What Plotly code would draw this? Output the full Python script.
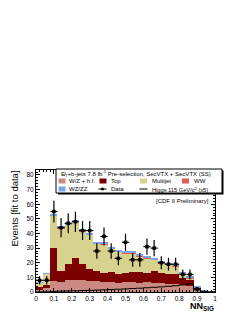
import numpy as np
import plotly.graph_objects as go

# ---- data (25 bins of width 0.04 on NN_SIG) ----
bin_edges = [round(0.04 * i, 2) for i in range(26)]
bin_centers = [round(0.02 + 0.04 * i, 2) for i in range(25)]

wz_hf = [1.5, 2.5, 7.4, 6.9, 8.0, 8.5, 8.0, 7.4, 7.4, 6.9, 6.7, 6.2, 6.7,
         6.9, 6.2, 6.7, 6.2, 6.2, 5.8, 5.5, 5.0, 4.4, 2.3, 0.9, 0.3]
top = [2.0, 2.5, 23.0, 7.4, 10.9, 15.0, 10.9, 8.0, 6.9, 6.2, 6.9, 6.2, 6.4,
       6.9, 7.4, 6.4, 8.1, 6.5, 6.6, 6.5, 4.9, 3.6, 0.9, 0.2, 0.0]
multijet = [3.0, 7.5, 21.6, 29.2, 27.1, 24.5, 22.6, 23.6, 18.7, 19.4, 15.9,
            15.1, 13.4, 12.7, 10.9, 9.9, 7.7, 6.8, 6.1, 5.7, 2.6, 1.5, 0.1, 0.0, 0.0]
ww = [0.05, 0.1, 0.4, 0.4, 0.4, 0.4, 0.4, 0.4, 0.4, 0.4, 0.4, 0.4, 0.4,
      0.4, 0.4, 0.4, 0.4, 0.4, 0.4, 0.3, 0.3, 0.3, 0.1, 0.05, 0.0]
wz_zz = [0.1, 0.2, 0.8, 0.9, 0.9, 0.9, 0.9, 0.9, 0.9, 0.9, 0.9, 0.9, 0.9,
         0.9, 0.9, 0.9, 0.9, 0.9, 0.9, 0.8, 0.8, 0.7, 0.2, 0.1, 0.0]
higgs_x5 = [0.05, 0.1, 0.4, 0.6, 0.7, 0.8, 1.0, 1.1, 1.3, 1.5, 1.7, 1.9, 2.1,
            2.4, 2.6, 2.9, 3.2, 3.5, 3.9, 4.3, 4.8, 5.6, 1.6, 0.4, 0.1]
data = [8, 8, 55, 44, 47, 48, 42, 42, 28, 38, 28, 23, 34,
        22, 22, 31, 30, 20, 19, 19, 12, 12, 2, 0, 0]

x_ticks = [0, 0.1, 0.2, 0.3, 0.4, 0.5, 0.6, 0.7, 0.8, 0.9, 1]
x_tick_labels = ["0", "0.1", "0.2", "0.3", "0.4", "0.5", "0.6", "0.7", "0.8", "0.9", "1"]
y_ticks = [0, 10, 20, 30, 40, 50, 60, 70, 80]

# ---- styling ----
C_WZHF = "#cc8a84"
C_TOP = "#7d0000"
C_MJ = "#d7d28e"
C_WW = "#e05a5a"
C_WZZZ = "#7fa3e4"
FONT = "Liberation Sans, Arial, Helvetica, sans-serif"

# the page body has an 8px default margin: the figure is offset by it
OFF = 8
PAGE_W, PAGE_H = 245, 317
W, H = PAGE_W - OFF, PAGE_H - OFF
L_PAGE, R_PAGE, T_PAGE, B_PAGE = 36, 215, 170, 292   # plot area in page pixels
ML = L_PAGE - OFF
MT = T_PAGE - OFF
MR = W + OFF - R_PAGE
MB = H + OFF - B_PAGE
PW = R_PAGE - L_PAGE
PH = B_PAGE - T_PAGE


def px(xp):
    return (xp - L_PAGE) / PW


def py(yp):
    return (B_PAGE - yp) / PH


fig = go.Figure()
for name, vals, col in [("W/Z + h.f.", wz_hf, C_WZHF), ("Top", top, C_TOP),
                        ("Multijet", multijet, C_MJ), ("WW", ww, C_WW),
                        ("WZ/ZZ", wz_zz, C_WZZZ)]:
    fig.add_trace(go.Bar(x=bin_centers, y=vals, width=0.04, name=name,
                         marker=dict(color=col, line=dict(width=0))))

fig.add_trace(go.Scatter(x=bin_edges, y=higgs_x5 + [higgs_x5[-1]], mode="lines",
                         line=dict(color="black", width=1, shape="hv"),
                         name="Higgs"))

d_x = [c for c, v in zip(bin_centers, data) if v > 0]
d_y = [v for v in data if v > 0]
fig.add_trace(go.Scatter(
    x=d_x, y=d_y, mode="markers", name="Data",
    marker=dict(color="black", size=3.5, symbol="square"),
    error_y=dict(type="data", array=list(np.sqrt(d_y)), color="black",
                 thickness=1.2, width=0),
    error_x=dict(type="constant", value=0.02, color="black",
                 thickness=1.2, width=0)))

axis_common = dict(showline=True, linecolor="black", linewidth=1, mirror="ticks",
                   ticks="inside", ticklen=4, tickcolor="black", tickwidth=1,
                   showgrid=False, zeroline=False,
                   tickfont=dict(family=FONT, size=6.5, color="black"))

fig.update_xaxes(range=[0, 1], tickvals=x_ticks, ticktext=x_tick_labels,
                 minor=dict(dtick=0.02, ticklen=2, ticks="inside", tickcolor="black"),
                 **axis_common)
fig.update_yaxes(range=[0, 83.4], tickvals=y_ticks,
                 minor=dict(dtick=2, ticklen=2, ticks="inside", tickcolor="black"),
                 **axis_common)

shapes = []
annotations = []

# legend box with shadow
shapes.append(dict(type="rect", xref="paper", yref="paper", layer="above",
                   x0=px(58), x1=px(223.5), y0=py(170.5), y1=py(194.5),
                   fillcolor="black", line=dict(width=0)))
shapes.append(dict(type="rect", xref="paper", yref="paper", layer="above",
                   x0=px(56), x1=px(222), y0=py(169), y1=py(193),
                   fillcolor="white", line=dict(color="black", width=1)))


def swatch(x0, yc, col):
    shapes.append(dict(type="rect", xref="paper", yref="paper", layer="above",
                       x0=px(x0), x1=px(x0 + 7), y0=py(yc + 2.5), y1=py(yc - 2.5),
                       fillcolor=col, line=dict(width=0)))


def label(x, yc, text, anchor="left", size=6):
    annotations.append(dict(xref="paper", yref="paper", x=px(x), y=py(yc),
                            text=text, showarrow=False, xanchor=anchor,
                            yanchor="middle",
                            font=dict(family=FONT, size=size, color="black")))


label(58.5, 173.5, "E&#824;<sub>T</sub>+b-jets 7.8 fb<sup>-1</sup> Pre-selection, SecVTX + SecVTX (SS)")
r1, r2 = 181, 189
swatch(58.5, r1, C_WZHF); label(67, r1, "W/Z + h.f.")
swatch(99.5, r1, C_TOP); label(109, r1, "Top")
swatch(140, r1, C_MJ); label(149.5, r1, "Multijet")
swatch(182, r1, C_WW); label(191.5, r1, "WW")
swatch(58.5, r2, C_WZZZ); label(67, r2, "WZ/ZZ")
shapes.append(dict(type="line", xref="paper", yref="paper", layer="above",
                   x0=px(98.5), x1=px(106.5), y0=py(r2), y1=py(r2),
                   line=dict(color="black", width=1)))
shapes.append(dict(type="circle", xref="paper", yref="paper", layer="above",
                   x0=px(101), x1=px(104), y0=py(r2 + 1.5), y1=py(r2 - 1.5),
                   fillcolor="black", line=dict(width=0)))
label(109, r2, "Data")
shapes.append(dict(type="line", xref="paper", yref="paper", layer="above",
                   x0=px(139.5), x1=px(147.5), y0=py(r2), y1=py(r2),
                   line=dict(color="black", width=1)))
label(149.5, r2, "Higgs 115 GeV/c<sup>2</sup> (x5)", size=5.7)

label(211, 200.5, "[CDF II Preliminary]", anchor="right")

# axis titles
annotations.append(dict(xref="paper", yref="paper", x=px(13.5), y=py(209),
                        text="Events [fit to data]", textangle=-90, showarrow=False,
                        xanchor="center", yanchor="middle",
                        font=dict(family=FONT, size=9.5, color="black")))
annotations.append(dict(xref="paper", yref="paper", x=px(216), y=py(306.5),
                        text="<b>NN<sub>SIG</sub></b>", showarrow=False,
                        xanchor="right", yanchor="middle",
                        font=dict(family=FONT, size=9, color="black")))

fig.update_layout(width=W, height=H, margin=dict(l=ML, r=MR, t=MT, b=MB, pad=0),
                  paper_bgcolor="white", plot_bgcolor="white",
                  barmode="stack", bargap=0, showlegend=False,
                  shapes=shapes, annotations=annotations)

fig.write_html("out.html")
